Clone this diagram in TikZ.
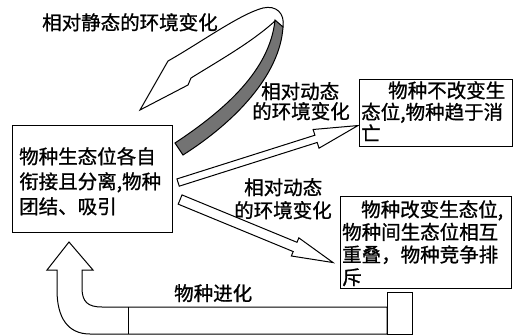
\documentclass[tikz,border=0pt]{standalone}
\usepackage{fontspec}
\setmainfont{Noto Sans CJK SC}[FakeBold=1]
\usetikzlibrary{calc}
\newcommand\myblockarrow[5]{%
  \coordinate (hb) at ($(#2)!#5!(#1)$);
  \draw[outl] ($(#1)!#3!90:(#2)$) -- ($(hb)!#3!90:(#2)$) -- ($(hb)!#4!90:(#2)$)
    -- (#2) -- ($(hb)!#4!-90:(#2)$) -- ($(hb)!#3!-90:(#2)$) -- ($(#1)!#3!-90:(#2)$) -- cycle;}
\begin{document}
\begin{tikzpicture}[x=1pt,y=-1pt,
  box/.style={draw, line width=1.1pt, inner sep=0pt, anchor=north west},
  txt/.style={font=\fontsize{19.5}{25}\selectfont, align=left, inner sep=0pt, anchor=north west},
  outl/.style={draw, line width=1pt, line join=miter, fill=white}]
\useasboundingbox (0,0) rectangle (521,336);
% boxes
\node[box, minimum width=160pt, minimum height=107pt] (b1) at (12,125) {};
\node[box, minimum width=153pt, minimum height=67pt] (b2) at (359,79) {};
\node[box, minimum width=171pt, minimum height=92pt] (b3) at (340,196) {};
% box texts
\node[txt] (t1) at (19,147) {物种生态位各自\\衔接且分离,物种\\团结、吸引};
\node[txt, font=\fontsize{19.5}{21.5}\selectfont] (t2) at (361,81) {\hspace*{27pt}物种不改变生\\态位,物种趋于消\\亡};
\node[txt, font=\fontsize{19.5}{22.6}\selectfont] (t3) at (342,200) {\hspace*{19pt}物种改变生态位,\\物种间生态位相互\\重叠，物种竞争排\\斥};
% labels
\node[txt] (l0) at (42,13) {相对静态的环境变化};
\node[txt, font=\fontsize{19.5}{20}\selectfont] (l1) at (252,82) {\hspace*{9pt}相对动态\\的环境变化};
\node[txt, font=\fontsize{19.5}{23}\selectfont] (l2) at (234,178) {\hspace*{10pt}相对动态\\的环境变化};
\node[txt] (l3) at (174,284) {物种进化};
% straight block arrows
\coordinate (aT) at ($(b1.east)+(5,3.5)$);
\coordinate (aH) at ($(b2.west)+(-1,12.5)$);
\coordinate (bT) at ($(b1.east)+(7,20.5)$);
\coordinate (bH) at ($(b3.west)+(-7,20)$);
\myblockarrow{aT}{aH}{3.8pt}{9.8pt}{44pt}
\myblockarrow{bT}{bH}{5pt}{9.8pt}{41pt}
% curled ribbon arrow
\draw[outl] (283,27) .. controls (285,13) and (276,5) .. (263,8)
  .. controls (240,14) and (200,43) .. (168,61) -- (140,110) -- (188,85) -- (191,78)
  .. controls (220,60) and (252,42) .. (275,21) -- cycle;
\draw[line width=1pt, fill=black!55] (175,143) .. controls (225,110) and (270,70) .. (275,20)
  -- (283,27) .. controls (280,75) and (235,122) .. (183,155) -- cycle;
% evolution U arrow
\draw[outl] (69,242) -- (93,270) -- (82,270) -- (82,288) .. controls (82,302) and (88,307) .. (102,307)
  -- (387,307) -- (387,334) -- (90,334) .. controls (68,334) and (57,318) .. (57,290)
  -- (57,270) -- (47,270) -- cycle;
\draw[line width=1pt] (128,307) -- (128,334);
\node[box, fill=white, minimum width=25pt, minimum height=42pt] (sq) at (387,292) {};
\end{tikzpicture}
\end{document}
